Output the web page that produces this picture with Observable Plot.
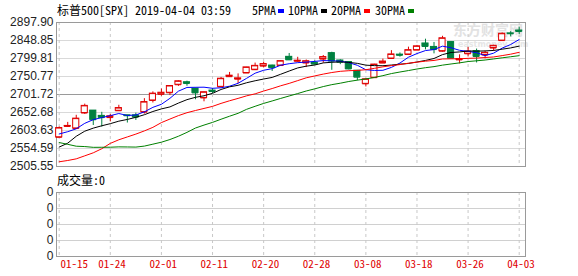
<!DOCTYPE html>
<html>
<head>
<meta charset="utf-8">
<script src="https://cdn.jsdelivr.net/npm/d3@7"></script>
<script src="https://cdn.jsdelivr.net/npm/@observablehq/plot@0.6"></script>
<style>
  html, body { margin: 0; padding: 0; background: #fff; }
  body { width: 578px; height: 276px; position: relative; overflow: hidden; }
  .t { position: absolute; font-family: "Noto Sans Mono CJK SC", "Noto Sans CJK SC", monospace; font-size: 12px; line-height: 12px; white-space: pre; color: #000; }
  .sw { position: absolute; width: 6px; height: 4px; }
  .wm { position: absolute; color: #e2e2e2; white-space: pre; }
  #c1, #c2 { position: absolute; left: 0; }
  #c1 { top: 0; }
  #c2 { top: 176px; }
</style>
</head>
<body>
<div class="wm" style="left:453px;top:22px;font-family:'Noto Sans CJK SC';font-size:14px;font-weight:bold;line-height:15px;">东方财富网</div>
<div class="wm" style="left:458px;top:41px;font-family:'DejaVu Sans';font-size:8px;font-weight:bold;line-height:8px;color:#e6e6e6;">eastmoney.com</div>
<div id="c1"></div>
<div id="c2"></div>
<div class="t" style="left:57px;top:4px;" id="title"></div>
<div id="legend"></div>
<div class="t" style="left:57px;top:174px;" id="vol"></div>
<script>
// ---- data ----
const title = "标普500[SPX] 2019-04-04 03:59";
const volTitle = "成交量:0";
const dates = ["01-15","01-16","01-17","01-18","01-22","01-23","01-24","01-25","01-28","01-29","01-30","01-31",
  "02-01","02-04","02-05","02-06","02-07","02-08","02-11","02-12","02-13","02-14","02-15","02-19","02-20","02-21","02-22","02-25","02-26","02-27","02-28",
  "03-01","03-04","03-05","03-06","03-07","03-08","03-11","03-12","03-13","03-14","03-15","03-18","03-19","03-20","03-21","03-22","03-25","03-26","03-27","03-28","03-29",
  "04-01","04-02","04-03"];
const open = [2585.10,2614.75,2609.28,2651.27,2657.88,2643.48,2638.84,2657.44,2644.97,2644.89,2653.62,2685.49,2702.32,2706.49,2728.34,2735.05,2717.53,2692.36,2712.40,2722.61,2750.30,2743.50,2760.24,2769.28,2779.05,2780.67,2780.67,2804.35,2792.36,2787.50,2788.11,2798.22,2814.37,2794.41,2790.27,2766.53,2730.79,2747.61,2787.34,2799.78,2810.38,2810.79,2822.61,2840.76,2831.34,2819.72,2844.52,2796.01,2812.66,2819.72,2809.40,2828.27,2848.63,2868.24,2876.09];
const high = [2613.08,2625.76,2645.06,2675.47,2657.88,2653.19,2647.20,2672.38,2644.97,2650.93,2690.44,2708.95,2716.66,2724.99,2738.98,2738.08,2719.32,2708.07,2718.05,2748.19,2761.85,2757.90,2775.66,2787.33,2789.88,2781.58,2794.20,2813.49,2803.12,2795.76,2793.73,2808.02,2816.88,2796.44,2790.27,2767.25,2744.13,2784.00,2798.32,2821.24,2815.00,2830.73,2835.41,2852.42,2843.54,2860.31,2846.16,2809.79,2829.87,2825.56,2819.71,2836.03,2869.40,2872.90,2885.25];
const low = [2585.10,2612.68,2606.36,2647.58,2617.27,2612.86,2627.01,2657.33,2624.06,2631.05,2648.34,2678.65,2696.88,2698.75,2724.03,2724.15,2687.26,2681.83,2703.79,2722.61,2748.63,2731.23,2760.24,2767.29,2774.06,2764.55,2779.11,2794.99,2789.47,2775.13,2782.51,2787.38,2767.66,2782.97,2768.69,2739.09,2722.27,2747.61,2786.73,2799.78,2803.46,2810.79,2821.99,2823.27,2812.43,2817.38,2800.47,2785.02,2803.99,2787.72,2798.77,2819.23,2848.63,2858.75,2865.17];
const close = [2610.30,2616.10,2635.96,2670.71,2632.90,2638.70,2642.33,2664.76,2643.85,2640.00,2681.05,2704.10,2706.53,2724.87,2737.70,2731.61,2706.05,2707.88,2709.80,2744.73,2753.03,2745.73,2775.60,2779.76,2784.70,2774.88,2792.67,2796.11,2793.90,2792.38,2784.49,2803.69,2792.81,2789.65,2771.45,2748.93,2743.07,2783.30,2791.52,2810.92,2808.48,2822.48,2832.94,2832.57,2824.23,2854.88,2800.71,2798.36,2818.46,2805.37,2815.44,2834.40,2867.19,2867.24,2873.40];
const ma5 = [2594.15,2600.38,2608.25,2623.14,2633.19,2638.87,2644.12,2649.88,2644.51,2645.93,2654.40,2666.75,2675.11,2691.31,2710.85,2720.96,2721.35,2721.62,2718.61,2720.01,2724.30,2732.23,2745.78,2759.77,2767.76,2772.13,2781.52,2785.62,2788.45,2789.99,2791.91,2794.11,2793.45,2792.60,2788.42,2781.31,2769.18,2767.28,2767.65,2775.55,2787.46,2803.34,2813.27,2821.48,2824.14,2833.42,2829.07,2822.15,2819.33,2815.56,2807.67,2814.41,2828.17,2837.93,2851.53];
const ma10 = [2558.47,2569.08,2587.89,2601.76,2610.09,2616.51,2622.25,2629.06,2633.82,2639.56,2646.64,2655.44,2662.49,2667.91,2678.39,2687.68,2694.05,2698.36,2704.96,2715.43,2722.63,2726.79,2733.70,2739.19,2743.89,2748.22,2756.88,2765.70,2774.11,2778.88,2782.02,2787.82,2789.54,2790.53,2789.20,2786.61,2781.65,2780.37,2780.13,2781.98,2784.38,2786.26,2790.27,2794.57,2799.84,2810.44,2816.20,2817.71,2820.40,2819.85,2820.54,2821.74,2825.16,2828.63,2833.55];
const ma20 = [2518.40,2521.91,2526.40,2534.59,2542.86,2553.97,2568.53,2578.38,2586.13,2593.84,2602.55,2612.26,2625.19,2634.84,2644.24,2652.10,2658.15,2663.71,2669.39,2677.50,2684.63,2691.11,2698.10,2703.55,2711.14,2717.95,2725.47,2732.03,2739.54,2747.15,2752.33,2757.31,2761.62,2764.86,2766.55,2767.41,2769.26,2773.03,2777.12,2780.43,2783.20,2787.04,2789.91,2792.55,2794.52,2798.52,2798.93,2799.04,2800.27,2800.92,2802.46,2804.00,2807.72,2811.60,2816.69];
const ma30 = [2570.79,2565.99,2560.84,2559.86,2557.76,2557.95,2558.10,2559.04,2558.80,2558.44,2561.15,2566.42,2571.76,2579.03,2588.04,2598.54,2610.37,2618.38,2625.74,2634.37,2642.58,2650.44,2661.36,2669.62,2677.45,2684.14,2691.06,2697.71,2704.30,2711.29,2717.10,2723.35,2728.58,2732.54,2737.16,2740.83,2744.19,2748.14,2753.07,2758.76,2763.01,2766.96,2771.17,2774.76,2777.65,2781.75,2784.91,2787.93,2791.55,2793.57,2795.65,2798.61,2801.66,2804.57,2807.53];
const yTicks = [2505.55,2554.59,2603.63,2652.68,2701.72,2750.77,2799.81,2848.85,2897.90];
const xTickDates = ["01-15","01-24","02-01","02-11","02-20","02-28","03-08","03-18","03-26","04-03"];
const volLevels = [0,1,2,3,4];
const volLabels = ["0","0","0","0","0"];
const maNames = ["5PMA","10PMA","20PMA","30PMA"];
const maColors = ["#0000ff","#000000","#ff0000","#008000"];

// ---- styling ----
const UP = "#e00000", DOWN = "#008040";
const W = 578;
const xDomain = [-0.317, 54.74];
const bw = 0.36;

const candles = dates.map((d, i) => ({
  i, date: d, open: open[i], high: high[i], low: low[i], close: close[i],
  ma5: ma5[i], ma10: ma10[i], ma20: ma20[i], ma30: ma30[i],
  color: close[i] >= open[i] ? UP : DOWN,
  fill: close[i] >= open[i] ? "#ffffff" : DOWN
}));
const tickIdx = xTickDates.map(d => dates.indexOf(d));
const midTick = yTicks[Math.floor(yTicks.length / 2)];

document.getElementById("title").textContent = title;
document.getElementById("vol").textContent = volTitle;

// legend
const legend = document.getElementById("legend");
const legPos = [[252, 278], [288, 321], [331, 364], [375, 408]];
maNames.forEach((n, k) => {
  const s = document.createElement("div");
  s.className = "t"; s.style.left = legPos[k][0] + "px"; s.style.top = "4px"; s.textContent = n;
  legend.appendChild(s);
  const r = document.createElement("div");
  r.className = "sw"; r.style.left = legPos[k][1] + "px"; r.style.top = "9px"; r.style.background = maColors[k];
  legend.appendChild(r);
});

const maKeys = ["ma5","ma10","ma20","ma30"];

const chart1 = Plot.plot({
  width: W, height: 176,
  marginLeft: 56, marginRight: 53, marginTop: 22, marginBottom: 10,
  style: {background: "transparent", overflow: "visible"},
  x: {type: "linear", domain: xDomain, axis: null},
  y: {domain: d3.extent(yTicks)},
  color: {type: "identity"},
  marks: [
    Plot.ruleY(yTicks.filter(v => v !== midTick), {stroke: "#d9d9d9"}),
    Plot.ruleY([midTick], {stroke: "#9a9a9a"}),
    Plot.ruleX(tickIdx, {stroke: "#c8c8c8", strokeDasharray: "3,3"}),
    Plot.frame({stroke: "#9a9a9a"}),
    Plot.axisY(yTicks, {tickSize: 0, tickPadding: 3, tickFormat: d => d.toFixed(2), fontSize: 12,
      fontFamily: "Liberation Sans, Arial, sans-serif", fill: "#222", label: null}),
    Plot.ruleX(candles, {x: "i", y1: "low", y2: "high", stroke: "color"}),
    Plot.rect(candles, {x1: d => d.i - bw, x2: d => d.i + bw, y1: "open", y2: "close", fill: "fill", stroke: "color"}),
    Plot.ruleY(candles, {y: "open", x1: d => d.i - bw, x2: d => d.i + bw, stroke: "color"}),
    Plot.ruleY(candles, {y: "close", x1: d => d.i - bw, x2: d => d.i + bw, stroke: "color"}),
    ...maKeys.map((k, j) => Plot.line(candles, {x: "i", y: k, stroke: maColors[j], strokeWidth: 1}))
  ]
});
document.getElementById("c1").appendChild(chart1);

const chart2 = Plot.plot({
  width: W, height: 100,
  marginLeft: 56, marginRight: 53, marginTop: 16, marginBottom: 20,
  style: {background: "transparent", overflow: "visible"},
  x: {type: "linear", domain: xDomain, axis: null},
  y: {domain: d3.extent(volLevels), axis: null},
  marks: [
    Plot.ruleY(volLevels.slice(1, -1), {stroke: "#d0d0d0"}),
    Plot.ruleX(tickIdx, {stroke: "#c8c8c8", strokeDasharray: "3,3"}),
    Plot.frame({stroke: "#9a9a9a"}),
    Plot.axisY(volLevels, {tickSize: 0, tickPadding: 3, tickFormat: d => volLabels[volLevels.indexOf(d)], fontSize: 12,
      fontFamily: "Liberation Sans, Arial, sans-serif", fill: "#222", label: null}),
    Plot.text(tickIdx.slice(0, 1), {x: d => d, text: d => dates[d], frameAnchor: "bottom", dy: 11, dx: 1.3,
      textAnchor: "start", fill: "#e00000", fontSize: 11, fontFamily: "Noto Sans Mono CJK SC, Noto Sans CJK SC, monospace"}),
    Plot.text(tickIdx.slice(1), {x: d => d, text: d => dates[d], frameAnchor: "bottom", dy: 11, dx: 1.8,
      fill: "#e00000", fontSize: 11, fontFamily: "Noto Sans Mono CJK SC, Noto Sans CJK SC, monospace"})
  ]
});
document.getElementById("c2").appendChild(chart2);
</script>
</body>
</html>
